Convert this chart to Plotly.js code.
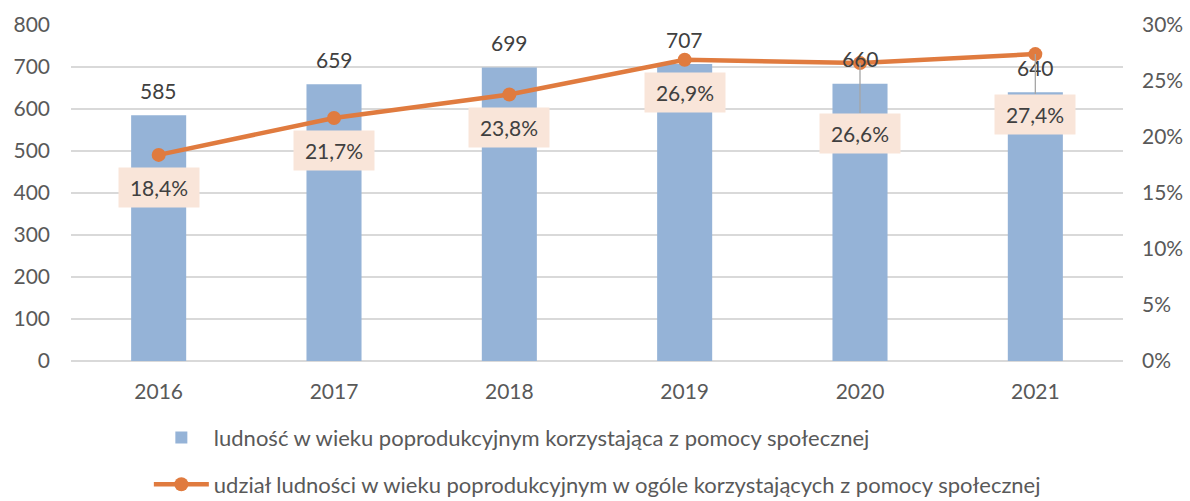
<!DOCTYPE html>
<html>
<head>
<meta charset="utf-8">
<script src="https://cdn.plot.ly/plotly-3.0.1.min.js"></script>
<style>html,body{margin:0;padding:0;background:#fff;}#chart{width:1190px;height:501px;}</style>
</head>
<body>
<div id="chart"></div>
<script>
var years = ['2016', '2017', '2018', '2019', '2020', '2021'];
var seniors = [585, 659, 699, 707, 660, 640];
var sharePct = [18.4, 21.7, 23.8, 26.9, 26.6, 27.4];
var shareLabels = ['18,4%', '21,7%', '23,8%', '26,9%', '26,6%', '27,4%'];
var barName = 'ludność w wieku poprodukcyjnym korzystająca z pomocy społecznej';
var lineName = 'udział ludności w wieku poprodukcyjnym w ogóle korzystających z pomocy społecznej';
var labelOffsets = [33, 33, 33, 33, 70, 60];
var leader = [false, false, false, false, true, true];

var FONT = 'Lato, "Open Sans", sans-serif';
var FS = 21;

var traces = [
  {
    type: 'bar', x: years, y: seniors, name: barName, legendgroup: 'a',
    marker: {color: '#95B3D7'}, width: 0.314, hoverinfo: 'none'
  },
  {
    type: 'scatter', mode: 'lines+markers', x: years, y: sharePct.map(function(v){return v/100;}),
    yaxis: 'y2', name: lineName, legendgroup: 'b',
    line: {color: '#E07B3F', width: 4.5}, marker: {color: '#E07B3F', size: 14}, hoverinfo: 'none'
  }
];

var annotations = [];
years.forEach(function(yr, i) {
  annotations.push({
    x: i, y: seniors[i], xref: 'x', yref: 'y', yshift: 25, showarrow: false,
    text: String(seniors[i]), font: {family: FONT, size: FS, color: '#404040'}
  });
  var a = {
    x: i, y: sharePct[i]/100, xref: 'x', yref: 'y2',
    text: shareLabels[i], bgcolor: '#F9E5D9', width: 78, height: 37,
    font: {family: FONT, size: FS, color: '#404040'}
  };
  if (leader[i]) {
    a.showarrow = true; a.ax = 0; a.ay = labelOffsets[i]; a.arrowhead = 0;
    a.arrowwidth = 1.3; a.arrowcolor = '#A6A6A6'; a.standoff = 0;
  } else {
    a.showarrow = false; a.yshift = -labelOffsets[i];
  }
  annotations.push(a);
});

var layout = {
  width: 1190, height: 501,
  margin: {l: 71, r: 67, t: 25, b: 140, autoexpand: false},
  paper_bgcolor: '#fff', plot_bgcolor: '#fff',
  font: {family: FONT, size: FS, color: '#595959'},
  showlegend: true,
  legend: {
    orientation: 'v', x: 0.074, xanchor: 'left', y: -0.166, yanchor: 'top',
    font: {family: FONT, size: 22, color: '#595959'}, tracegroupgap: 15, itemwidth: 55
  },
  xaxis: {
    type: 'category', range: [-0.5, 5.5], autorange: false, showgrid: false, zeroline: false, showline: false,
    ticks: '', tickfont: {family: FONT, size: FS, color: '#595959'}, ticklabelstandoff: 16
  },
  yaxis: {
    range: [0, 800], dtick: 100, showgrid: true, gridcolor: '#D9D9D9', gridwidth: 1.3,
    zeroline: true, zerolinecolor: '#D9D9D9', zerolinewidth: 1.3, showline: false, ticks: '',
    tickfont: {family: FONT, size: FS, color: '#595959'}, ticklabelstandoff: 20
  },
  yaxis2: {
    overlaying: 'y', side: 'right', range: [0, 0.30], dtick: 0.05, tickformat: '.0%',
    showgrid: false, zeroline: false, showline: false, ticks: '',
    tickfont: {family: FONT, size: FS, color: '#595959'}, ticklabelstandoff: 18
  },
  annotations: annotations
};

Plotly.newPlot('chart', traces, layout, {staticPlot: true});
</script>
</body>
</html>
